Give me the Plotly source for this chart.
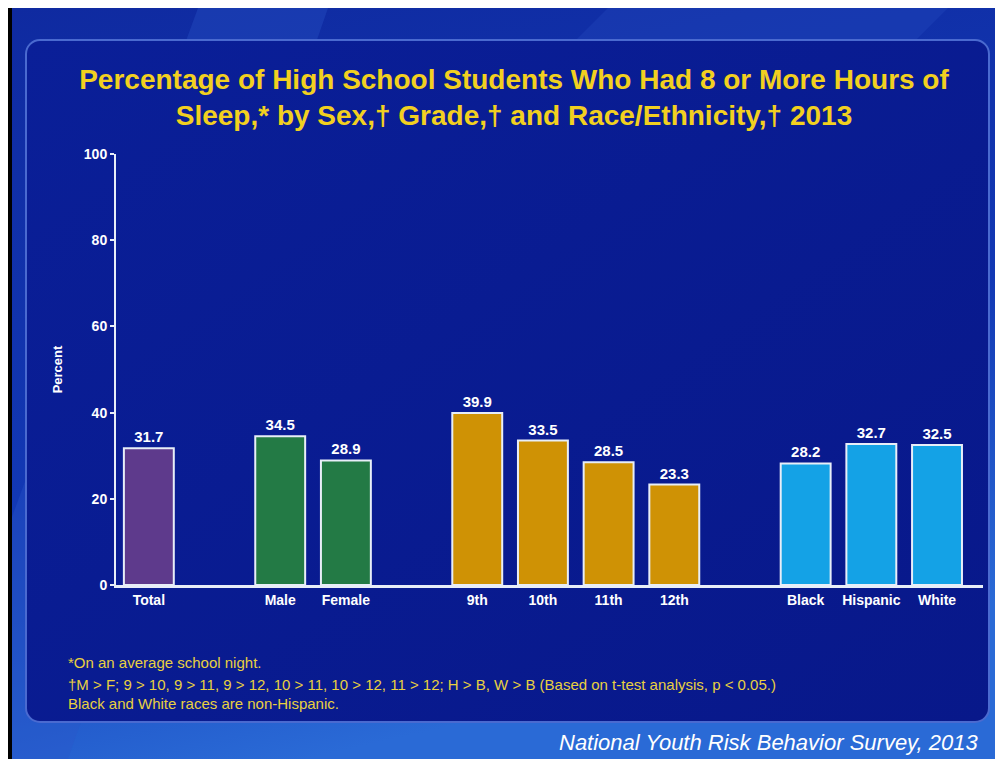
import plotly.graph_objects as go
import urllib.parse

# ---- data ----
categories = ["Total", " ", "Male", "Female", "  ", "9th", "10th", "11th", "12th", "   ", "Black", "Hispanic", "White"]
bar_categories = ["Total", "Male", "Female", "9th", "10th", "11th", "12th", "Black", "Hispanic", "White"]
values = [31.7, 34.5, 28.9, 39.9, 33.5, 28.5, 23.3, 28.2, 32.7, 32.5]
bar_colors = ["#5e3a8c", "#237a45", "#237a45",
              "#cf9205", "#cf9205", "#cf9205", "#cf9205",
              "#14a2e6", "#14a2e6", "#14a2e6"]
y_ticks = [0, 20, 40, 60, 80, 100]

title_text = ("Percentage of High School Students Who Had 8 or More Hours of<br>"
              "Sleep,* by Sex,† Grade,† and Race/Ethnicity,† 2013")
footnotes = ["*On an average school night.",
             "†M > F; 9 > 10, 9 > 11, 9 > 12, 10 > 11, 10 > 12, 11 > 12; H > B, W > B (Based on t-test analysis, p < 0.05.)",
             "Black and White races are non-Hispanic."]
source_text = "National Youth Risk Behavior Survey, 2013"

labels = [f"{v:.1f}" for v in values]

# page has an 8px body margin; figure is sized/offset to compensate
W, H = 995, 751
L, R, T, B = 108, 20, 146, 174
PW, PH = W - L - R, H - T - B

svg = f"""<svg xmlns='http://www.w3.org/2000/svg' width='{W}' height='{H}'>
<defs>
<linearGradient id='bg' x1='0' y1='0' x2='0.3' y2='1'>
<stop offset='0' stop-color='#0f2aa0'/><stop offset='0.6' stop-color='#1238b4'/><stop offset='1' stop-color='#2a6ad6'/>
</linearGradient>
<linearGradient id='pn' x1='0' y1='0' x2='1' y2='1'>
<stop offset='0' stop-color='#0a1f98'/><stop offset='1' stop-color='#08188a'/>
</linearGradient>
</defs>
<rect width='{W}' height='{H}' fill='url(#bg)'/>
<polygon points='190,0 320,0 60,{H} 0,{H} 0,520' fill='#2a55c8' opacity='0.35'/>
<polygon points='600,0 940,0 900,40 560,40' fill='#2a55c8' opacity='0.25'/>
<rect x='0' y='0' width='4' height='{H}' fill='#000'/>
<rect x='18' y='32' width='963' height='682' rx='14' ry='14' fill='url(#pn)' stroke='#4a6ad0' stroke-width='2'/>
</svg>"""
svg_uri = "data:image/svg+xml;charset=utf-8," + urllib.parse.quote(svg)

FONT = "Liberation Sans, Arial"

fig = go.Figure()
fig.add_trace(go.Bar(
    x=bar_categories, y=values,
    marker=dict(color=bar_colors, line=dict(color="#e8eef8", width=2)),
    width=0.76,
    text=labels, textposition="outside",
    textfont=dict(color="white", size=15, family=FONT, weight="bold"),
    cliponaxis=False,
    hoverinfo="x+y",
))

fig.update_layout(
    width=W, height=H,
    margin=dict(l=L, r=R, t=T, b=B),
    paper_bgcolor="#0a1f98",
    plot_bgcolor="rgba(0,0,0,0)",
    showlegend=False,
    font=dict(family=FONT, color="white"),
    images=[dict(source=svg_uri, xref="paper", yref="paper", x=-L / PW, y=1 + T / PH,
                 sizex=W / PW, sizey=H / PH, xanchor="left", yanchor="top",
                 sizing="stretch", layer="below")],
    xaxis=dict(
        type="category", categoryorder="array", categoryarray=categories,
        tickvals=bar_categories,
        range=[-0.5, 12.7],
        showgrid=False, zeroline=False,
        showline=True, linecolor="#e8eef8", linewidth=3,
        ticks="", tickfont=dict(color="white", size=14, family=FONT, weight="bold"),
    ),
    yaxis=dict(
        range=[0, 100], tickvals=y_ticks,
        showgrid=False, zeroline=False,
        showline=True, linecolor="#e8eef8", linewidth=2,
        ticks="outside", ticklen=4, tickcolor="#e8eef8", tickwidth=2,
        tickfont=dict(color="white", size=14, family=FONT, weight="bold"),
        title=dict(text="Percent", font=dict(color="white", size=13, family=FONT, weight="bold"),
                   standoff=18),
    ),
    title=dict(text=title_text, x=(514 - 8) / W, xanchor="center", y=1 - (89 - 8) / H, yanchor="middle",
               font=dict(color="#f2d020", size=28, family=FONT, weight="bold")),
)

for i, (line, yy) in enumerate(zip(footnotes, [662, 684, 703])):
    fig.add_annotation(text=line, xref="paper", yref="paper",
                       x=(66 - 8 - L) / PW, y=-(yy - 8 - (T + PH)) / PH,
                       xanchor="left", yanchor="middle", showarrow=False,
                       font=dict(color="#e8d040", size=15, family=FONT))

fig.add_annotation(text="<i>" + source_text + "</i>", xref="paper", yref="paper",
                   x=(980 - 8 - L) / PW, y=-(742 - 8 - (T + PH)) / PH,
                   xanchor="right", yanchor="middle", showarrow=False,
                   font=dict(color="white", size=22, family=FONT))

fig.write_html("out.html")
